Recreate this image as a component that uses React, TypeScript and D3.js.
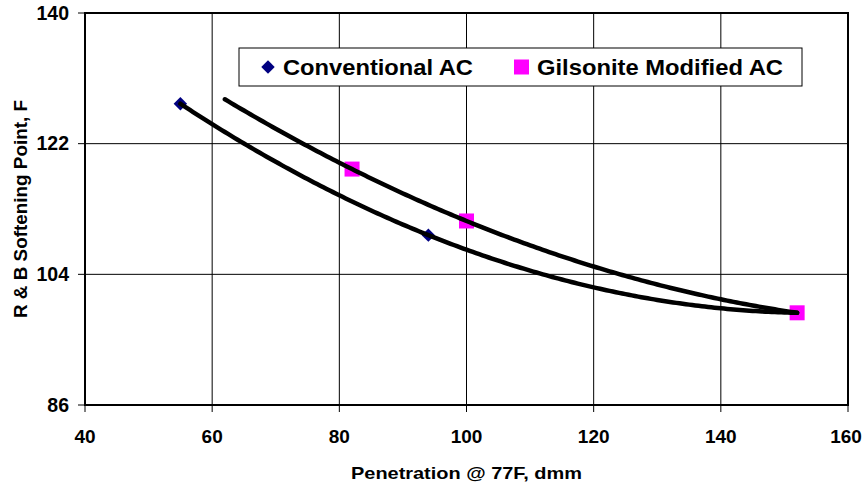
import * as d3 from "d3";
import React from "react";

const xTicks = [40, 60, 80, 100, 120, 140, 160];
const yTicks = [86, 104, 122, 140];

const seriesNames = ["Conventional AC", "Gilsonite Modified AC"];
const conventionalX = [55, 94, 152];
const conventionalY = [127.5, 109.4, 98.7];
const gilsoniteX = [82, 100, 152];
const gilsoniteY = [118.5, 111.35, 98.7];
// trendline ranges (Excel-style 2nd order poly, gilsonite forecast backward)
const conventionalTrend = [55, 152];
const gilsoniteTrend = [62, 152];

// exact quadratic through 3 points (Lagrange)
function quad(xs: number[], ys: number[]) {
	return (x: number) => {
		let s = 0;
		for (let i = 0; i < 3; i++) {
			let t = ys[i];
			for (let j = 0; j < 3; j++) {
				if (j !== i) t *= (x - xs[j]) / (xs[i] - xs[j]);
			}
			s += t;
		}
		return s;
	};
}

export default function App() {
	const width = 863;
	const height = 485;
	const margin = { top: 13, right: 15, bottom: 80, left: 85 };
	const font = "Arial, 'Liberation Sans', sans-serif";

	const x = d3.scaleLinear().domain([40, 160]).range([margin.left, 848]);
	const y = d3.scaleLinear().domain([86, 140]).range([405, margin.top]);

	const line = d3
		.line<number[]>()
		.x((d) => x(d[0]))
		.y((d) => y(d[1]));

	const trendPath = (xs: number[], ys: number[], range: number[]) => {
		const f = quad(xs, ys);
		const pts = d3.range(range[0], range[1] + 0.01, 0.5).map((v) => [v, f(v)]);
		return line(pts) ?? "";
	};

	const diamond = d3.symbol().type(d3.symbolDiamond2).size(115);

	return (
		<svg
			width={width}
			height={height}
			style={{ position: "absolute", left: 0, top: 0, background: "#fff" }}
			fontFamily={font}
		>
			{/* grid */}
			{xTicks.slice(1, -1).map((t) => (
				<line key={"gx" + t} x1={x(t)} x2={x(t)} y1={y(140)} y2={y(86)} stroke="#000" strokeWidth={1} />
			))}
			{yTicks.slice(1, -1).map((t) => (
				<line key={"gy" + t} x1={x(40)} x2={x(160)} y1={y(t)} y2={y(t)} stroke="#000" strokeWidth={1} />
			))}
			{/* frame */}
			<rect
				x={x(40)}
				y={y(140)}
				width={x(160) - x(40)}
				height={y(86) - y(140)}
				fill="none"
				stroke="#000"
				strokeWidth={2}
			/>
			{/* ticks + labels */}
			{yTicks.map((t) => (
				<g key={"yt" + t}>
					<line x1={x(40) - 7} x2={x(40)} y1={y(t)} y2={y(t)} stroke="#000" strokeWidth={1} />
					<text x={x(40) - 16} y={y(t)} dy="0.35em" textAnchor="end" fontSize={19.5} fontWeight="bold">
						{t}
					</text>
				</g>
			))}
			{xTicks.map((t) => (
				<g key={"xt" + t}>
					<line x1={x(t)} x2={x(t)} y1={y(86)} y2={y(86) + 7} stroke="#000" strokeWidth={1} />
					<text
						x={Math.min(x(t), width - 17)}
						y={y(86) + 31}
						dy="0.35em"
						textAnchor="middle"
						fontSize={19}
						fontWeight="bold"
					>
						{t}
					</text>
				</g>
			))}
			<text
				x={(x(40) + x(160)) / 2}
				y={473}
				dy="0.35em"
				textAnchor="middle"
				fontSize={17}
				fontWeight="bold"
				textLength={231}
				lengthAdjust="spacingAndGlyphs"
			>
				Penetration @ 77F, dmm
			</text>
			<text
				transform={`translate(21, ${(y(140) + y(86)) / 2}) rotate(-90)`}
				dy="0.35em"
				textAnchor="middle"
				fontSize={18}
				fontWeight="bold"
				textLength={218}
				lengthAdjust="spacingAndGlyphs"
			>
				R &amp; B Softening Point, F
			</text>

			{/* markers */}
			{conventionalX.map((v, i) => (
				<path
					key={"c" + i}
					d={diamond() ?? ""}
					transform={`translate(${x(v)},${y(conventionalY[i])})`}
					fill="#000080"
				/>
			))}
			{gilsoniteX.map((v, i) => (
				<rect key={"g" + i} x={x(v) - 7.5} y={y(gilsoniteY[i]) - 7.5} width={15} height={15} fill="#ff00ff" />
			))}

			{/* trendlines */}
			<path
				d={trendPath(conventionalX, conventionalY, conventionalTrend)}
				fill="none"
				stroke="#000"
				strokeWidth={4.5}
				strokeLinecap="round"
			/>
			<path
				d={trendPath(gilsoniteX, gilsoniteY, gilsoniteTrend)}
				fill="none"
				stroke="#000"
				strokeWidth={4.5}
				strokeLinecap="round"
			/>

			{/* legend */}
			<rect x={239} y={48} width={563} height={38} fill="#fff" stroke="#000" strokeWidth={1} />
			<path d={diamond() ?? ""} transform="translate(268,67)" fill="#000080" />
			<text
				x={283}
				y={67}
				dy="0.35em"
				fontSize={22}
				fontWeight="bold"
				textLength={190}
				lengthAdjust="spacingAndGlyphs"
			>
				{seriesNames[0]}
			</text>
			<rect x={514} y={59.5} width={15} height={15} fill="#ff00ff" />
			<text
				x={537}
				y={67}
				dy="0.35em"
				fontSize={22}
				fontWeight="bold"
				textLength={246}
				lengthAdjust="spacingAndGlyphs"
			>
				{seriesNames[1]}
			</text>
		</svg>
	);
}
